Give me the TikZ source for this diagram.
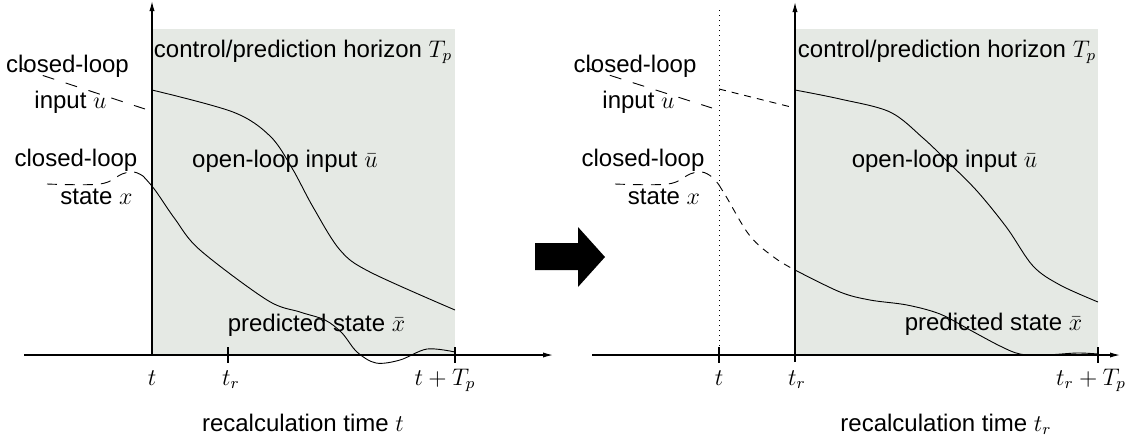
\documentclass[tikz,border=0pt]{standalone}
\usepackage{fontspec}
\setmainfont{Liberation Sans}
\usetikzlibrary{arrows.meta}
\definecolor{horizon}{RGB}{229,233,228}
\begin{document}
\begin{tikzpicture}[x=0.5pt,y=-0.5pt,
  font=\fontsize{12}{14}\selectfont,
  axisline/.style={line width=0.6pt,-{Latex[length=5pt,width=2.6pt]}},
  tickline/.style={line width=0.6pt},
  curve/.style={line width=0.45pt},
  cldash/.style={curve,dash pattern=on 6pt off 6pt},
  shortdash/.style={curve,dash pattern=on 3.5pt off 3pt},
  lbl/.style={anchor=base,inner sep=0pt}]
\useasboundingbox (0,0) rectangle (1134,441);

% ---------- left panel ----------
\fill[horizon] (152,29) rectangle (455,355);
\coordinate (Lx0) at (24,355);
\coordinate (Lx1) at (553,355);
\coordinate (Ly0) at (152,355);
\coordinate (Ly1) at (152,1);
\draw[axisline] (Lx0) -- (Lx1);
\draw[axisline] (Ly0) -- (Ly1);
\draw[tickline] (228,347) -- (228,363);
\draw[tickline] (455,347) -- (455,363);

% open-loop input
\draw[curve] plot[smooth,tension=0.55] coordinates {(152,90) (233,112) (270,136) (292,168) (313,207) (340,250) (370,272) (455,310)};
% predicted state
\draw[curve] plot[smooth,tension=0.55] coordinates {(143,176) (155,190) (175,219) (200,250) (267,300) (300,312) (325,320) (342,333) (357,352) (376,363) (400,360) (427,349) (455,352)};
% closed-loop input / state
\draw[cldash] (20,68) -- (145,109);
\draw[curve,dash pattern=on 5pt off 4pt] plot[smooth,tension=0.6] coordinates {(47,184) (100,184) (122,174) (134,172) (143,176)};

\node[lbl] (Lhor) at (303,57) {control/prediction horizon $T_p$};
\node[lbl] (Lcl1) at (67.5,72) {closed-loop};
\node[lbl] (Lin) at (70.5,108) {input $u$};
\node[lbl] (Lcl2) at (76,166) {closed-loop};
\node[lbl] (Lst) at (96.5,204) {state $x$};
\node[lbl] (Lol) at (285,167) {open-loop input $\bar u$};
\node[lbl] (Lps) at (316.5,331) {predicted state $\bar x$};
\node[lbl] (Lt) at (152,385) {$t$};
\node[lbl] (Ltr) at (231,385) {$t_r$};
\node[lbl] (LtT) at (445,385) {$t+T_p$};
\node[lbl] (Lrec) at (303,431) {recalculation time $t$};

% ---------- big arrow ----------
\fill[black] (535,243) -- (578,243) -- (578,227) -- (605,257) -- (578,287) -- (578,270) -- (535,270) -- cycle;

% ---------- right panel ----------
\fill[horizon] (795,29) rectangle (1098,355);
\coordinate (Rx0) at (592,355);
\coordinate (Rx1) at (1120,355);
\coordinate (Ry0) at (795,362);
\coordinate (Ry1) at (795,2);
\draw[axisline] (Rx0) -- (Rx1);
\draw[axisline] (Ry0) -- (Ry1);
\draw[line width=0.5pt,dotted] (719,10) -- (719,355);
\draw[tickline] (719,347) -- (719,363);
\draw[tickline] (1098,347) -- (1098,363);

% open-loop input
\draw[curve] plot[smooth,tension=0.55] coordinates {(795,90) (840,99) (890,112) (923,138) (947,161) (977,191) (1007,228) (1033,266) (1060,285) (1098,302)};
% predicted state
\draw[curve] plot[smooth,tension=0.55] coordinates {(795,270) (840,292) (870,300) (907,305) (940,314) (970,330) (1000,346) (1020,354) (1045,355) (1077,353) (1098,354)};
% closed-loop input / state
\draw[cldash] (587,68) -- (712,108);
\draw[shortdash] (719,89) -- (795,108);
\draw[curve,dash pattern=on 5pt off 4pt] plot[smooth,tension=0.6] coordinates {(615,184) (668,184) (690,174) (702,172) (712,177) (719,185)};
\draw[shortdash] plot[smooth,tension=0.6] coordinates {(719,185) (727,198) (750,236) (775,258) (795,270)};

\node[lbl] (Rhor) at (947,57) {control/prediction horizon $T_p$};
\node[lbl] (Rcl1) at (635,72) {closed-loop};
\node[lbl] (Rin) at (638.5,108) {input $u$};
\node[lbl] (Rcl2) at (643,166) {closed-loop};
\node[lbl] (Rst) at (664,204) {state $x$};
\node[lbl] (Rol) at (944.5,167) {open-loop input $\bar u$};
\node[lbl] (Rps) at (993.5,330) {predicted state $\bar x$};
\node[lbl] (Rt) at (719,385) {$t$};
\node[lbl] (Rtr) at (797,385) {$t_r$};
\node[lbl] (RtT) at (1091,385) {$t_r+T_p$};
\node[lbl] (Rrec) at (946,431) {recalculation time $t_r$};
\end{tikzpicture}
\end{document}
